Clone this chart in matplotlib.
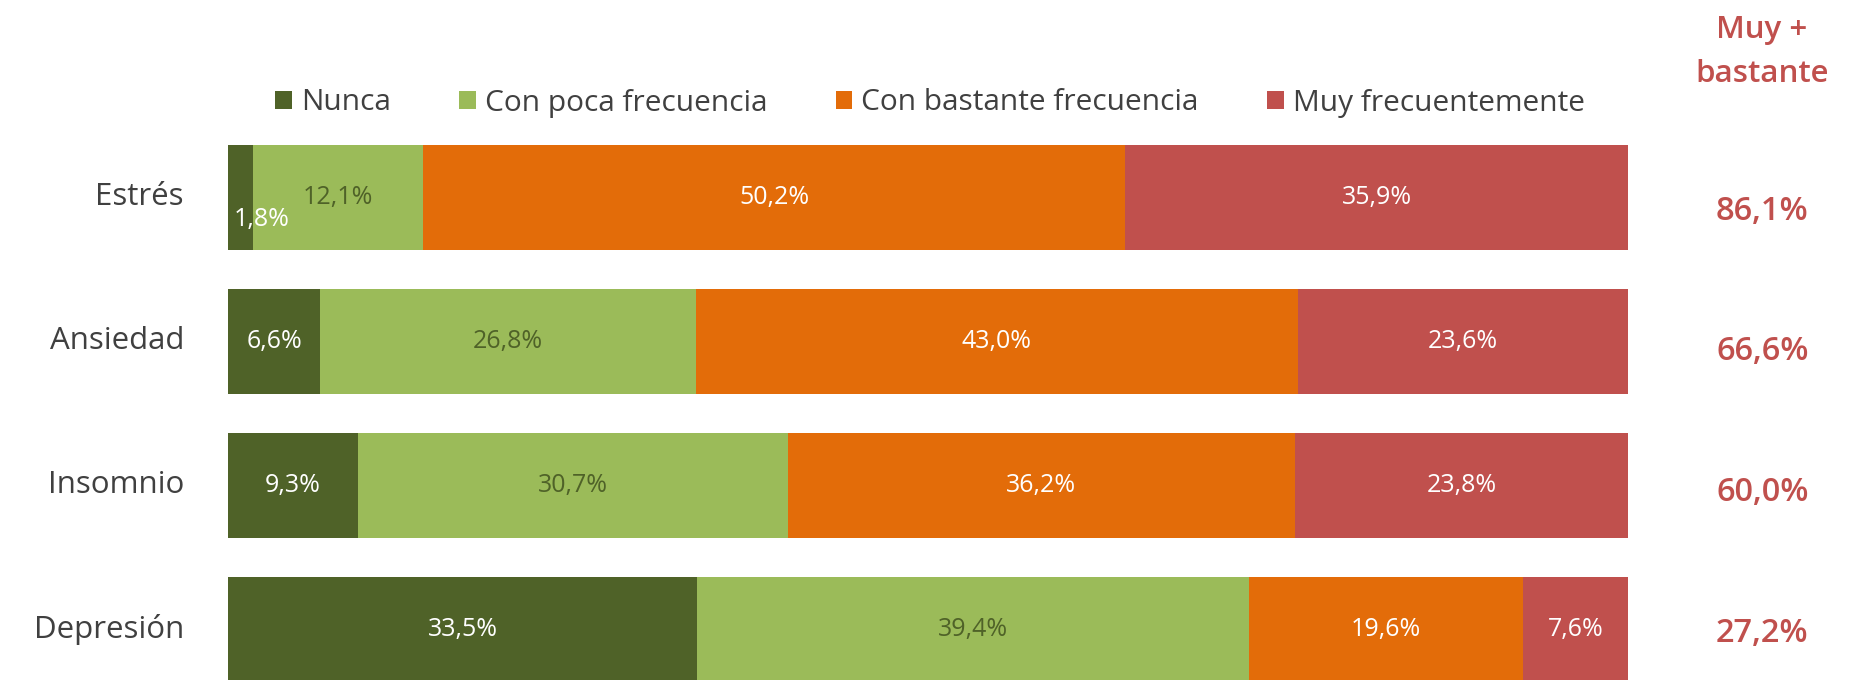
import matplotlib
matplotlib.use("Agg")
import matplotlib.pyplot as plt
from matplotlib.patches import Patch

categories = ["Estrés", "Ansiedad", "Insomnio", "Depresión"]
series_names = ["Nunca", "Con poca frecuencia", "Con bastante frecuencia", "Muy frecuentemente"]
nunca = [1.8, 6.6, 9.3, 33.5]
poca = [12.1, 26.8, 30.7, 39.4]
bastante = [50.2, 43.0, 36.2, 19.6]
muy = [35.9, 23.6, 23.8, 7.6]
muy_mas_bastante = [86.1, 66.6, 60.0, 27.2]

colors = ["#4F6228", "#9BBB59", "#E36C09", "#C0504D"]
text_colors = ["white", "#4F6228", "white", "white"]
FONT = "Open Sans"
plt.rcParams["font.family"] = [FONT, "DejaVu Sans"]

W, H = 1860, 680
fig = plt.figure(figsize=(W / 100, H / 100), dpi=100)
# axes occupies px x 228..1628, y 100..680
ax = fig.add_axes([228 / W, 0, 1400 / W, 580 / H])
pitch = 144.0
c0 = 197.5
ax.set_ylim((680 - c0) / pitch, (100 - c0) / pitch)
ax.set_xlim(0, 100)
ax.axis("off")

def fmt(v):
    return f"{v:.1f}".replace(".", ",") + "%"

ypos = list(range(len(categories)))
series = [nunca, poca, bastante, muy]
left = [0.0] * len(categories)
for s, vals in enumerate(series):
    ax.barh(ypos, vals, left=left, height=0.735, color=colors[s], edgecolor="none",
            label=series_names[s])
    for i, v in enumerate(vals):
        if v < 3:
            ax.text(left[i] + 0.4, ypos[i] + 0.15, fmt(v), ha="left", va="center",
                    fontsize=18, color=text_colors[s])
        else:
            ax.text(left[i] + v / 2, ypos[i], fmt(v), ha="center", va="center",
                    fontsize=18, color=text_colors[s])
    left = [l + v for l, v in zip(left, vals)]

val_offsets = [0.1, 0.07, 0.05, 0.03]
for i, cat in enumerate(categories):
    ax.text(-3.15, ypos[i], cat, ha="right", va="center", fontsize=22.5, color="#404040")
    ax.text(109.6, ypos[i] + val_offsets[i], fmt(muy_mas_bastante[i]), ha="center",
            va="center", fontsize=23.5, color="#C0504D", fontweight="semibold")

fig.text(1762 / W, 1 - 52 / H, "Muy +\nbastante", ha="center", va="center",
         fontsize=22.5, color="#C0504D", fontweight="semibold", linespacing=1.6)

handles = [Patch(facecolor=c, edgecolor="none") for c in colors]
fig.legend(handles, series_names, loc="center", bbox_to_anchor=(930 / W, 1 - 103 / H),
           ncol=4, frameon=False, fontsize=21.5, handlelength=0.55, handleheight=0.55,
           handletextpad=0.3, columnspacing=2.3, labelcolor="#404040")

fig.savefig("out.png", dpi=100)
